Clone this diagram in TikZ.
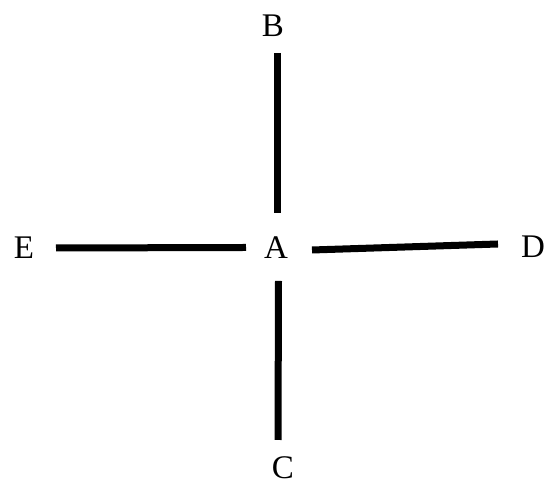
\documentclass[tikz,border=0pt]{standalone}
\usepackage{fontspec}
\setmainfont{Liberation Serif}
\begin{document}
\begin{tikzpicture}[x=1pt,y=1pt,
  lbl/.style={inner sep=0pt, font=\fontsize{33}{38}\selectfont},
  edge/.style={line width=7pt, line cap=butt, black}]
\useasboundingbox (0,0) rectangle (547,486);
\node[lbl] (B) at (273,460) {B};
\node[lbl] (A) at (276,238) {A};
\node[lbl] (E) at (24,238) {E};
\node[lbl] (D) at (533,239) {D};
\node[lbl] (C) at (283,18) {C};
\coordinate (b1) at (277,433);
\coordinate (a1) at (277,273);
\coordinate (e1) at (56,238);
\coordinate (a2) at (246,238.5);
\coordinate (a3) at (312,236);
\coordinate (d1) at (498,242);
\coordinate (a4) at (278.5,205);
\coordinate (c1) at (278,46);
\draw[edge] (b1) -- (a1);
\draw[edge] (e1) -- (a2);
\draw[edge] (a3) -- (d1);
\draw[edge] (a4) -- (c1);
\end{tikzpicture}
\end{document}
